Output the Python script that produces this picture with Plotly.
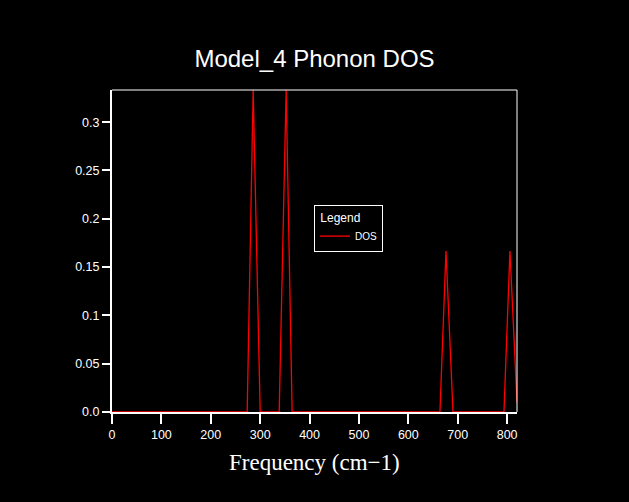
import plotly.graph_objects as go

# Data (triangular DOS peaks)
freq = [0.0, 273.7, 285.8, 300.0, 338.5, 352.6, 364.7, 664.0, 676.2, 690.4, 793.6, 805.7, 820.0]
dos = [0.0, 0.0, 0.3333, 0.0, 0.0, 0.3333, 0.0, 0.0, 0.1667, 0.0, 0.0, 0.1667, 0.010]

x_ticks = [0, 100, 200, 300, 400, 500, 600, 700, 800]
x_ticktext = ["0", "100", "200", "300", "400", "500", "600", "700", "800"]
y_ticks = [0.0, 0.05, 0.1, 0.15, 0.2, 0.25, 0.3]
y_ticktext = ["0.0", "0.05", "0.1", "0.15", "0.2", "0.25", "0.3"]

W, H = 629, 502
L, R, T, B = 112, 112, 90, 90

fig = go.Figure()
fig.add_trace(go.Scatter(x=freq, y=dos, mode="lines", name="DOS",
                         line=dict(color="#ff0000", width=1.3)))

fig.update_layout(
    width=W, height=H,
    margin=dict(l=L, r=R, t=T, b=B),
    paper_bgcolor="black", plot_bgcolor="black",
    title=dict(text="Model_4 Phonon DOS", x=0.5, xanchor="center",
               y=1 - 59 / H, yanchor="middle",
               font=dict(family="Liberation Sans, Arial", size=24, color="white")),
    showlegend=True,
    legend=dict(x=(314 - L) / (W - L - R), y=(412 - 205) / (H - T - B),
                xanchor="left", yanchor="top",
                bgcolor="black", bordercolor="white", borderwidth=1,
                font=dict(family="Liberation Sans, Arial", size=10, color="white"),
                title=dict(text=" Legend", font=dict(family="Liberation Sans, Arial", size=12, color="white")),
                tracegroupgap=0),
    xaxis=dict(range=[0, 820], tickvals=x_ticks, ticktext=x_ticktext,
               showgrid=False, zeroline=False, showline=True, linecolor="white", linewidth=2,
               ticks="outside", ticklen=10, tickwidth=2, tickcolor="white",
               tickfont=dict(family="Liberation Sans, Arial", size=12.5, color="white")),
    yaxis=dict(range=[0, 0.3333], tickvals=y_ticks, ticktext=y_ticktext,
               showgrid=False, zeroline=False, showline=True, linecolor="white", linewidth=2,
               ticks="outside", ticklen=8, tickwidth=2, tickcolor="white",
               tickfont=dict(family="Liberation Sans, Arial", size=12.5, color="white")),
    shapes=[
        dict(type="line", xref="paper", yref="paper", x0=0, x1=1, y0=1, y1=1,
             line=dict(color="white", width=1)),
        dict(type="line", xref="paper", yref="paper", x0=1, x1=1, y0=0, y1=1,
             line=dict(color="white", width=1)),
        dict(type="line", xref="paper", yref="paper", x0=-9 / 405, x1=0, y0=0, y1=0,
             line=dict(color="white", width=2)),
        dict(type="line", xref="paper", yref="paper", x0=0, x1=0, y0=-8 / 322, y1=0,
             line=dict(color="white", width=2)),
    ],
    annotations=[
        dict(text="Frequency (cm\u22121)", xref="paper", yref="paper",
             x=0.5, y=-(462 - 412) / 322, xanchor="center", yanchor="middle",
             showarrow=False,
             font=dict(family="Liberation Serif, Times New Roman", size=23, color="white")),
    ],
)

fig.write_html("out.html")
